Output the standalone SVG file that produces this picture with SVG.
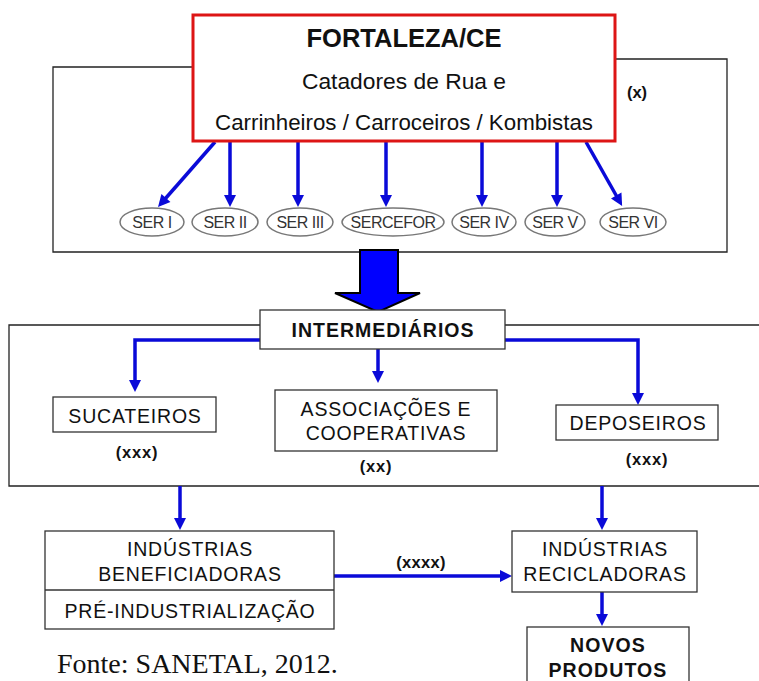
<svg xmlns="http://www.w3.org/2000/svg" width="759" height="681" viewBox="0 0 759 681">
  <style>
    .frame { fill: none; stroke: #222; stroke-width: 1.3; }
    .box { fill: #fff; stroke: #333; stroke-width: 1.3; }
    .ser { fill: #fff; stroke: #777; stroke-width: 1.5; }
    .t { font-family: "Liberation Sans", Arial, sans-serif; fill: #111; text-anchor: middle; }
    .b { font-weight: bold; }
    .sp { letter-spacing: 0.8px; }
    .lbl { font-size: 19.5px; }
    .st { font-size: 16px; fill: #333; letter-spacing: -0.5px; }
    .flow { fill: none; stroke: #0a0ad8; stroke-width: 3.5; marker-end: url(#head); }
  </style>
  <defs>
    <marker id="head" markerUnits="userSpaceOnUse" markerWidth="14" markerHeight="14" refX="4" refY="6" orient="auto" overflow="visible">
      <path d="M0,0 L12,6 L0,12 z" fill="#0a0ad8"/>
    </marker>
  </defs>

  <rect width="759" height="681" fill="#fff"/>

  <!-- outer frames -->
  <path class="frame" d="M193,67 H53 V252 H727 V59 H615"/>
  <path class="frame" d="M260,325 H9 V486 H759 M505,325 H759"/>

  <g id="connectors">
    <!-- city to SER regions -->
    <path class="flow" d="M215,142 L163.3,201"/>
    <path class="flow" d="M230,142 V199"/>
    <path class="flow" d="M298,142 V199"/>
    <path class="flow" d="M386,142 V199"/>
    <path class="flow" d="M482,142 V199"/>
    <path class="flow" d="M557,142 V199"/>
    <path class="flow" d="M586,142 L618.2,199"/>
    <!-- intermediaries branches -->
    <path class="flow" d="M260,340 H135 V384"/>
    <path class="flow" d="M378,349 V375"/>
    <path class="flow" d="M505,340 H638 V397"/>
    <!-- to industries -->
    <path class="flow" d="M180,486 V522"/>
    <path class="flow" d="M602,486 V522"/>
    <path class="flow" d="M334,576 H504"/>
    <path class="flow" d="M602,592 V618"/>
    <!-- large block arrow -->
    <path d="M360,250 H398 V293 H420 L378,312 L335,293 H360 Z" fill="#0000ff" stroke="#000" stroke-width="2" stroke-linejoin="miter"/>
  </g>

  <g id="fortaleza">
    <rect x="193" y="15" width="422" height="126" fill="#fff" stroke="#dd1515" stroke-width="3"/>
    <text class="t b" x="404" y="47" font-size="25.5">FORTALEZA/CE</text>
    <text class="t" x="404" y="89" font-size="22.8">Catadores de Rua e</text>
    <text class="t" x="404" y="130" font-size="22.3">Carrinheiros / Carroceiros / Kombistas</text>
  </g>
  <text class="t b" x="637" y="98" font-size="16.5">(x)</text>

  <g id="ser1"><ellipse class="ser" cx="152" cy="222" rx="32" ry="14"/><text class="t st" x="152" y="227.5">SER I</text></g>
  <g id="ser2"><ellipse class="ser" cx="225" cy="222" rx="33" ry="14"/><text class="t st" x="225" y="227.5">SER II</text></g>
  <g id="ser3"><ellipse class="ser" cx="300" cy="222" rx="33" ry="14"/><text class="t st" x="300" y="227.5">SER III</text></g>
  <g id="sercefor"><ellipse class="ser" cx="393" cy="222" rx="51" ry="14"/><text class="t st" x="393" y="227.5">SERCEFOR</text></g>
  <g id="ser4"><ellipse class="ser" cx="484" cy="222" rx="32" ry="14"/><text class="t st" x="484" y="227.5">SER IV</text></g>
  <g id="ser5"><ellipse class="ser" cx="555" cy="222" rx="30" ry="14"/><text class="t st" x="555" y="227.5">SER V</text></g>
  <g id="ser6"><ellipse class="ser" cx="633" cy="222" rx="33" ry="14"/><text class="t st" x="633" y="227.5">SER VI</text></g>

  <g id="intermediarios">
    <rect class="box" x="260" y="310" width="245" height="39"/>
    <text class="t b" x="383" y="337" font-size="19.5" letter-spacing="1">INTERMEDIÁRIOS</text>
  </g>

  <g id="sucateiros">
    <rect class="box" x="53" y="397" width="163" height="35"/>
    <text class="t lbl sp" x="135" y="423">SUCATEIROS</text>
    <text class="t b sp" x="137" y="458" font-size="16.5">(xxx)</text>
  </g>

  <g id="associacoes">
    <rect class="box" x="275" y="390" width="222" height="61"/>
    <text class="t lbl sp" x="386" y="416">ASSOCIAÇÕES E</text>
    <text class="t lbl sp" x="386" y="440">COOPERATIVAS</text>
    <text class="t b sp" x="376" y="472" font-size="16.5">(xx)</text>
  </g>

  <g id="deposeiros">
    <rect class="box" x="556" y="405" width="162" height="35"/>
    <text class="t lbl sp" x="638" y="430">DEPOSEIROS</text>
    <text class="t b sp" x="647" y="465" font-size="16.5">(xxx)</text>
  </g>

  <g id="beneficiadoras">
    <rect class="box" x="45" y="531" width="289" height="98"/>
    <line x1="45" y1="590" x2="334" y2="590" stroke="#333" stroke-width="1.3"/>
    <text class="t lbl sp" x="190" y="556">INDÚSTRIAS</text>
    <text class="t lbl sp" x="190" y="581">BENEFICIADORAS</text>
    <text class="t lbl sp" x="190" y="618">PRÉ-INDUSTRIALIZAÇÃO</text>
  </g>
  <text class="t b" x="421" y="568" font-size="16.5" letter-spacing="0.3">(xxxx)</text>

  <g id="recicladoras">
    <rect class="box" x="512" y="531" width="185" height="61"/>
    <text class="t lbl sp" x="605" y="556">INDÚSTRIAS</text>
    <text class="t lbl sp" x="605" y="581">RECICLADORAS</text>
  </g>

  <g id="novos-produtos">
    <rect class="box" x="527" y="627" width="162" height="70"/>
    <text class="t b" x="608" y="652" font-size="19.5" letter-spacing="1.1">NOVOS</text>
    <text class="t b" x="608" y="677" font-size="19.5" letter-spacing="1.1">PRODUTOS</text>
  </g>

  <text x="57" y="673" font-family="'Liberation Serif', 'Times New Roman', serif" font-size="28" fill="#111">Fonte: SANETAL, 2012.</text>
</svg>
